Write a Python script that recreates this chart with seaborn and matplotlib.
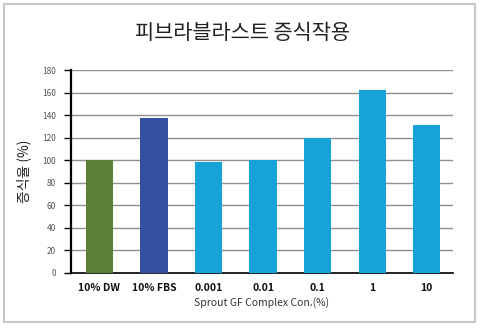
import matplotlib
matplotlib.use("Agg")
import matplotlib.pyplot as plt
import seaborn as sns
import pandas as pd
from matplotlib.patches import Rectangle

categories = ["10% DW", "10% FBS", "0.001", "0.01", "0.1", "1", "10"]
proliferation = [100, 137, 98, 100, 120, 162, 131]
bar_colors = ["#5b7f36", "#3450a2", "#17a2da", "#17a2da", "#17a2da", "#17a2da", "#17a2da"]
y_ticks = [0, 20, 40, 60, 80, 100, 120, 140, 160, 180]

title = "피브라블라스트 증식작용"
y_label = "증식율 (%)"
x_label = "Sprout GF Complex Con.(%)"

sns.set_theme(style="white")
plt.rcParams["font.family"] = ["Noto Sans CJK KR", "DejaVu Sans"]

df = pd.DataFrame({"group": categories, "value": proliferation})

fig = plt.figure(figsize=(4.85, 3.29), dpi=100)
ax = fig.add_axes([71 / 485, 1 - 273 / 329, (453 - 71) / 485, (273 - 70) / 329])

sns.barplot(data=df, x="group", y="value", hue="group", palette=bar_colors,
            width=0.5, legend=False, ax=ax, saturation=1, zorder=3,
            linewidth=0, edgecolor="none")

ax.set_ylim(0, 180)
ax.set_xlim(-0.52, 6.48)
ax.set_yticks(y_ticks)
ax.yaxis.grid(True, color="#8f8f8f", linewidth=1.0, zorder=0)
ax.set_axisbelow(True)

for side in ["top", "right"]:
    ax.spines[side].set_visible(False)
ax.spines["left"].set_color("black")
ax.spines["left"].set_linewidth(1.6)
ax.spines["bottom"].set_color("black")
ax.spines["bottom"].set_linewidth(1.2)

ax.tick_params(axis="y", which="major", direction="out", length=5, width=1,
               color="black", labelsize=6, labelcolor="#555555", pad=6, left=True)
ax.tick_params(axis="x", length=0, labelsize=7.5, pad=7)
for lbl in ax.get_xticklabels():
    lbl.set_fontweight("bold")
    lbl.set_color("#111111")

ax.set_xlabel(x_label, fontsize=7.5, color="#333333", labelpad=3)
ax.set_ylabel(y_label, fontsize=10, color="#222222", labelpad=8)

fig.text(0.5, 1 - 33 / 329, title, ha="center", va="center", fontsize=15, color="#222222")

# outer frame around the whole figure
fig.patches.append(Rectangle((4.5 / 485, 1 - 322 / 329), (475 - 4.5) / 485, (322 - 3.5) / 329,
                             transform=fig.transFigure, fill=False,
                             edgecolor="#c8c8c8", linewidth=1.5))

fig.savefig("out.png", dpi=100)
